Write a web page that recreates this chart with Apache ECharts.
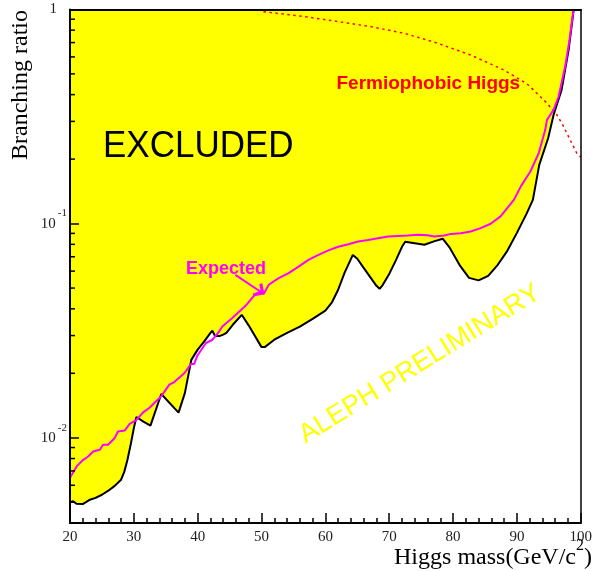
<!DOCTYPE html>
<html><head><meta charset="utf-8">
<script src="https://cdn.jsdelivr.net/npm/echarts@6/dist/echarts.min.js"></script>
<style>html,body{margin:0;padding:0;background:#fff}#c{width:595px;height:571px}</style>
</head><body><div id="c"></div>
<script>
// ---- data ----
const observedMass = [20.0,20.5,21.0,22.0,23.0,24.0,25.0,26.0,27.0,28.0,28.5,29.0,29.5,30.0,30.4,31.5,32.6,34.3,37.0,38.0,39.0,40.0,41.0,42.0,42.3,42.7,43.5,44.0,44.5,45.5,46.9,48.0,50.0,50.5,52,54,56,58,60,61,62,63,64.3,65,66,67,68,68.5,69,70,71,72,72.5,74,75.5,77,78.4,79.5,81,82.5,84,85.5,87,88.5,90,91.5,92.5,93.5,94.9,95.75,97.0,98.1,98.9];
const observedBR = [0.00500,0.00505,0.00492,0.00490,0.00512,0.00524,0.00542,0.00566,0.00596,0.00637,0.00693,0.00789,0.00927,0.0111,0.0125,0.0119,0.0114,0.0160,0.0131,0.0162,0.0231,0.0258,0.0281,0.0309,0.0316,0.0299,0.0299,0.0303,0.0309,0.0337,0.0375,0.0334,0.0265,0.0265,0.0287,0.0309,0.0330,0.0359,0.0392,0.0427,0.0491,0.0589,0.0714,0.0685,0.0621,0.0564,0.0512,0.0496,0.0518,0.0582,0.0670,0.0779,0.0822,0.0809,0.0796,0.0826,0.0849,0.0770,0.0642,0.0558,0.0543,0.0570,0.0642,0.0746,0.0905,0.111,0.129,0.188,0.251,0.322,0.421,0.647,1.0];
const expectedMass = [20.0,21.04,22.07,22.85,23.63,24.67,25.18,25.96,27.0,27.52,28.56,29.34,30.38,31.41,32.45,33.49,34.27,35.56,36.34,36.86,37.9,38.94,39.46,39.92,41.28,42.26,43.35,43.86,45.42,47.5,49.06,49.84,50.35,51.13,52.68,54.24,55.8,57.35,58.91,60.47,62.02,63.58,65.14,66.69,68.25,69.81,71.36,72.92,74.47,76.03,77.07,78.63,79.66,81.21,82.77,84.33,85.88,87.44,88.48,89.53,90.66,92.11,93.41,94.44,94.71,95.75,96.53,97.56,98.24,98.86];
const expectedBR = [0.00650,0.00735,0.00789,0.00818,0.00863,0.00879,0.00927,0.00927,0.00997,0.0107,0.0108,0.0116,0.0121,0.0131,0.0138,0.0148,0.0156,0.0177,0.0182,0.0188,0.0200,0.0221,0.0221,0.0241,0.0277,0.0286,0.0313,0.0331,0.0362,0.0413,0.0470,0.0482,0.0470,0.0518,0.0556,0.0587,0.0630,0.0677,0.0714,0.0750,0.0779,0.0801,0.0824,0.0839,0.0855,0.0870,0.0876,0.0879,0.0886,0.0883,0.0870,0.0879,0.0895,0.0902,0.0918,0.0952,0.0998,0.108,0.118,0.129,0.150,0.175,0.213,0.274,0.305,0.340,0.392,0.541,0.720,0.994];
const fermioMass = [50.3,56.84,62.02,67.21,72.41,77.59,82.77,87.97,91.6,94.71,96.26,97.31,98.33,99.38,100];
const fermioBR = [0.976,0.925,0.877,0.830,0.773,0.695,0.612,0.521,0.449,0.365,0.322,0.284,0.246,0.213,0.204];
const xMin = 20, xMax = 100, xStep = 10;
const yMin = 0.004, yMax = 1;
const yMinorTicks = [0.005,0.006,0.007,0.008,0.009,0.02,0.03,0.04,0.05,0.06,0.07,0.08,0.09,0.2,0.3,0.4,0.5,0.6,0.7,0.8,0.9];
const arrowFrom = [45.9, 0.0576];
const arrowTo = [49.8, 0.0482];

const zip = (a, b) => a.map((v, i) => [v, b[i]]);
const SERIF = '"Liberation Serif", "Times New Roman", serif';
const SANS = '"Liberation Sans", Arial, sans-serif';

const chart = echarts.init(document.getElementById('c'), null, {renderer: 'canvas'});
chart.setOption({
  animation: false,
  backgroundColor: '#fff',
  grid: {left: 70, right: 11, top: 9.4, bottom: 48, show: false},
  xAxis: [{
    type: 'value', min: xMin, max: xMax, interval: xStep, z: 10,
    axisLine: {show: true, lineStyle: {color: '#000', width: 2}},
    axisTick: {show: true, inside: true, length: 10, lineStyle: {color: '#000', width: 1.5}},
    minorTick: {show: true, splitNumber: 5, length: 5, lineStyle: {color: '#000', width: 1.5}},
    splitLine: {show: false},
    axisLabel: {margin: 7, fontFamily: SERIF, fontSize: 15, color: '#222'}
  }, {
    type: 'value', min: xMin, max: xMax, position: 'top', z: 10,
    axisLine: {show: true, lineStyle: {color: '#000', width: 2}},
    axisTick: {show: false}, axisLabel: {show: false}, splitLine: {show: false}
  }],
  yAxis: [{
    type: 'log', min: yMin, max: yMax, logBase: 10, z: 10,
    axisLine: {show: true, lineStyle: {color: '#000', width: 2}},
    axisTick: {show: true, inside: true, length: 9, lineStyle: {color: '#000', width: 1.5}},
    splitLine: {show: false},
    axisLabel: {
      margin: 3, fontFamily: SERIF, fontSize: 15, color: '#222', showMinLabel: false,
      formatter: function (v) {
        const l = Math.log10(v), e = Math.round(l);
        if (Math.abs(l - e) > 1e-6) return '';
        if (e === 0) return '{one|1}';
        return '10{sup|' + e + '}';
      },
      rich: {
        one: {fontFamily: SERIF, fontSize: 15, color: '#222', padding: [0, 10, 0, 0]},
        sup: {fontFamily: SERIF, fontSize: 11, color: '#222', padding: [0, 0, 20, 2]}
      }
    }
  }, {
    type: 'log', min: yMin, max: yMax, position: 'right', z: 10,
    axisLine: {show: true, lineStyle: {color: '#000', width: 1.5}},
    axisTick: {show: false}, axisLabel: {show: false}, splitLine: {show: false}
  }],
  series: [{
    name: 'Observed', type: 'line', data: zip(observedMass, observedBR),
    symbol: 'none', z: 2,
    lineStyle: {color: '#000', width: 2},
    areaStyle: {color: '#ffff00', opacity: 1, origin: 'end'}
  }, {
    name: 'Fermiophobic', type: 'line', data: zip(fermioMass, fermioBR),
    symbol: 'none', z: 3,
    lineStyle: {color: '#ff0000', width: 1.5, type: [2.5, 3.5]}
  }, {
    name: 'Expected', type: 'line', data: zip(expectedMass, expectedBR),
    symbol: 'none', z: 4,
    lineStyle: {color: '#ff00ff', width: 2},
    markLine: {
      silent: true, animation: false,
      symbol: ['none', 'path://M5,0 L10,5 L8.6,6.4 L5,2.8 L1.4,6.4 L0,5 Z'],
      symbolSize: [16, 10],
      label: {show: false},
      lineStyle: {color: '#ff00ff', width: 2, type: 'solid'},
      data: [[{coord: arrowFrom}, {coord: arrowTo}]]
    }
  }, {
    name: 'minorTicks', type: 'custom', silent: true, z: 11,
    data: yMinorTicks.map(v => [xMin, v]),
    renderItem: function (params, api) {
      const p = api.coord([api.value(0), api.value(1)]);
      return {type: 'line', shape: {x1: p[0], y1: p[1], x2: p[0] + 5, y2: p[1]},
              style: {stroke: '#000', lineWidth: 1.5}};
    }
  }],
  graphic: [
    {type: 'text', x: 103, y: 147.5, scaleY: 1.03, z: 20,
     style: {text: 'EXCLUDED', font: '35px ' + SANS, fill: '#000', align: 'left', verticalAlign: 'middle'}},
    {type: 'text', x: 336.5, y: 84, z: 20,
     style: {text: 'Fermiophobic Higgs', font: 'bold 19px ' + SANS, fill: '#ff0000', align: 'left', verticalAlign: 'middle'}},
    {type: 'text', x: 186, y: 269, z: 20,
     style: {text: 'Expected', font: 'bold 18px ' + SANS, fill: '#ff00ff', align: 'left', verticalAlign: 'middle'}},
    {type: 'text', x: 420, y: 364, rotation: 0.555, z: 20,
     style: {text: 'ALEPH PRELIMINARY', font: '27px ' + SANS, fill: '#ffff00', align: 'center', verticalAlign: 'middle'}},
    {type: 'text', x: 21, y: 85, rotation: Math.PI / 2, z: 20,
     style: {text: 'Branching ratio', font: '24px ' + SERIF, fill: '#000', align: 'center', verticalAlign: 'middle'}},
    {type: 'text', x: 592, y: 558, z: 20,
     style: {text: 'Higgs mass(GeV/c{s|2})', font: '24px ' + SERIF, fill: '#000', align: 'right', verticalAlign: 'middle',
             rich: {s: {fontFamily: SERIF, fontSize: 16, fill: '#000', padding: [0, 0, 24, 0]}}}}
  ]
});
</script></body></html>
